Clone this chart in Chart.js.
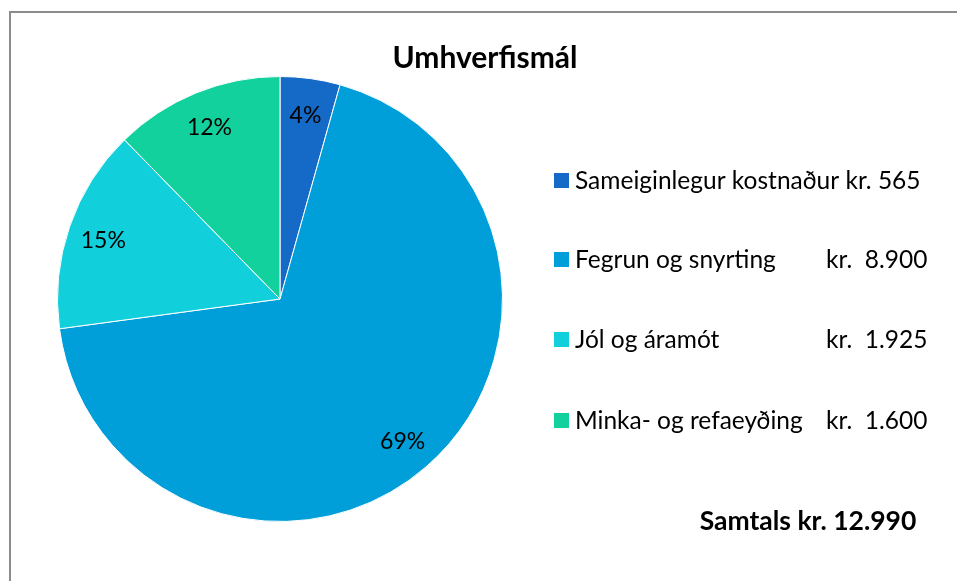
<!DOCTYPE html>
<html>
<head>
<meta charset="utf-8">
<script src="https://cdn.jsdelivr.net/npm/chart.js@4"></script>
<style>
    html, body { margin: 0; padding: 0; background: #fff; }
</style>
</head>
<body>
<canvas id="pieChart" width="957" height="581"></canvas>
<script>
// Data
const chartTitle = "Umhverfismál";
const categories = ["Sameiginlegur kostnaður", "Fegrun og snyrting", "Jól og áramót", "Minka- og refaeyðing"];
const values = [565, 8900, 1925, 1600];
const amountLabels = ["kr. 565", "kr.  8.900", "kr.  1.925", "kr.  1.600"];
const totalLabel = "Samtals kr. 12.990";
const colors = ["#1569C7", "#009FD9", "#11CFDB", "#13D19C"];

const FONT = "Lato, 'Open Sans', sans-serif";

// Rammi, titill, skýringar og prósentur
const decorPlugin = {
    id: "decor",
    beforeDraw(chart) {
        const ctx = chart.ctx;
        ctx.save();
        ctx.strokeStyle = "#8c8c8c";
        ctx.lineWidth = 2;
        ctx.strokeRect(10, 12, 1000, 1000);
        ctx.restore();
    },
    afterDraw(chart) {
        const ctx = chart.ctx;
        const total = values.reduce((a, b) => a + b, 0);
        ctx.save();

        // titill
        ctx.fillStyle = "#000";
        ctx.textAlign = "center";
        ctx.textBaseline = "middle";
        ctx.font = "bold 30px " + FONT;
        ctx.fillText(chartTitle, 485, 58);

        // prósentur á sneiðum
        const meta = chart.getDatasetMeta(0);
        ctx.font = "23px " + FONT;
        meta.data.forEach((arc, i) => {
            const p = arc.getProps(["x", "y", "startAngle", "endAngle", "outerRadius"], true);
            const mid = (p.startAngle + p.endAngle) / 2;
            const r = p.outerRadius * 0.84;
            const pct = Math.round(values[i] / total * 100) + "%";
            ctx.fillText(pct, p.x + Math.cos(mid) * r, p.y + Math.sin(mid) * r + 2);
        });

        // skýringar
        const rowY = [181, 260, 340, 421];
        ctx.textAlign = "left";
        ctx.font = "24.5px " + FONT;
        categories.forEach((name, i) => {
            const y = rowY[i];
            ctx.fillStyle = colors[i];
            ctx.fillRect(554, y - 8, 15, 15);
            ctx.fillStyle = "#000";
            if (i === 0) {
                ctx.fillText(name + " " + amountLabels[i], 575, y);
            } else {
                ctx.fillText(name, 575, y);
                ctx.fillText(amountLabels[i], 826, y);
            }
        });

        // samtals
        ctx.textAlign = "center";
        ctx.font = "bold 26.5px " + FONT;
        ctx.fillText(totalLabel, 808, 521);
        ctx.restore();
    },
};

const ctx = document.getElementById("pieChart").getContext("2d");
const pieChart = new Chart(ctx, {
    type: "pie",
    data: {
        labels: categories,
        datasets: [
            {
                data: values,
                backgroundColor: colors,
                borderColor: "#ffffff",
                borderWidth: 1,
            },
        ],
    },
    options: {
        responsive: false,
        animation: false,
        devicePixelRatio: 1,
        layout: { padding: { left: 57, right: 454, top: 76, bottom: 59 } },
        plugins: {
            legend: { display: false },
            tooltip: { enabled: false },
        },
    },
    plugins: [decorPlugin],
});
</script>
</body>
</html>
